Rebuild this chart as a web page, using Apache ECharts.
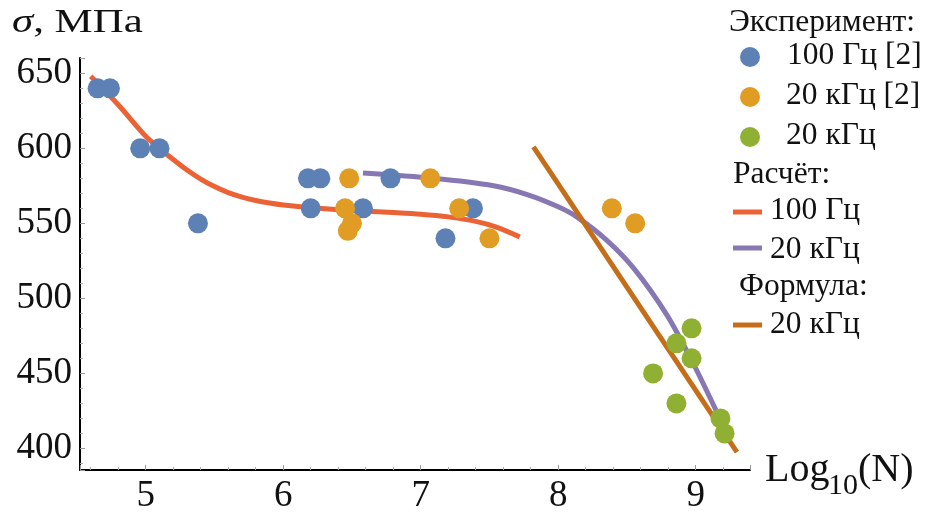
<!DOCTYPE html>
<html>
<head>
<meta charset="utf-8">
<script src="https://cdn.jsdelivr.net/npm/echarts@6/dist/echarts.min.js"></script>
<style>
html,body{margin:0;padding:0;background:#fff;}
#chart{width:932px;height:519px;}
</style>
</head>
<body>
<div id="chart"></div>
<script>
// Experimental points
const exp100X = [4.65, 4.74, 4.96, 5.10, 5.38, 6.18, 6.27, 6.20, 6.58, 6.78, 7.38, 7.18];
const exp100Y = [640, 640, 600, 600, 550, 580, 580, 560, 560, 580, 560, 540];
const exp20kRefX = [6.48, 6.45, 6.50, 6.47, 7.07, 7.28, 7.50, 8.39, 8.56];
const exp20kRefY = [580, 560, 550, 545, 580, 560, 540, 560, 550];
const exp20kX = [8.97, 8.86, 8.97, 8.69, 8.86, 9.18, 9.21];
const exp20kY = [480, 470, 460, 450, 430, 420, 410];
// Calculated curves
const calc100X = [4.60, 4.80, 5.00, 5.10, 5.20, 5.30, 5.40, 5.50, 5.60, 5.70, 5.80, 5.90, 6.00, 6.20, 6.50, 6.80, 7.00, 7.20, 7.40, 7.55, 7.72];
const calc100Y = [648, 629, 608, 600, 592.5, 585.5, 579.5, 574.5, 570.5, 567.5, 565.2, 563.5, 562.2, 560.4, 558.6, 557.2, 556.1, 554.3, 551.3, 547.5, 541];
const calc20kX = [6.58, 7.09, 7.53, 7.78, 8.00, 8.14, 8.35, 8.55, 8.79, 8.98, 9.16];
const calc20kY = [583.5, 580, 575, 569, 561, 554, 539, 520, 489, 457, 423];
// Formula line
const formulaX = [7.82, 9.30];
const formulaY = [601, 397.5];
// Axis ticks
const xTicks = [5, 6, 7, 8, 9];
const yTicks = [400, 450, 500, 550, 600, 650];

const C = {
  blue: '#5E81B5', orange: '#E19C24', green: '#8FB032',
  red: '#EB6235', purple: '#8778B3', brown: '#C56E1A'
};
const FONT = '"Liberation Serif", "Times New Roman", serif';

function pairs(xs, ys) { return xs.map((x, i) => [x, ys[i]]); }

const chart = echarts.init(document.getElementById('chart'), null, {renderer: 'canvas'});

const labelText = (arr) => (v) => {
  for (const t of arr) if (Math.abs(v - t) < 1e-6) return String(t);
  return '';
};

const graphics = [];
function txt(x, y, t, size, extra) {
  graphics.push(Object.assign({type: 'text', x: x, y: y, z: 10,
    style: {text: t, font: size + 'px ' + FONT, fill: '#111', textVerticalAlign: 'middle', verticalAlign: 'middle'}}, extra || {}));
}
function legDot(x, y, c) {
  graphics.push({type: 'circle', shape: {cx: x, cy: y, r: 10}, style: {fill: c}, z: 10});
}
function legLine(x, y, c) {
  graphics.push({type: 'rect', shape: {x: x, y: y - 2.5, width: 29, height: 5}, style: {fill: c}, z: 10});
}

// Title (y axis name), slightly widened like the reference
graphics.push({type: 'text', x: 12, y: 23, scaleX: 1.3, z: 10, style: {
  text: '{i|σ}, МПа', font: '33px ' + FONT, fill: '#111', textVerticalAlign: 'middle', verticalAlign: 'middle',
  rich: {i: {fontStyle: 'italic', fontSize: 33, fontFamily: FONT, fill: '#111'}}}});
// X axis name with subscript
txt(765, 470, 'Log', 40);
txt(828, 486, '10', 30);
txt(858, 470, '(N)', 40);

// Legend
const LS = 31.5;
txt(729, 23, 'Эксперимент:', LS);
legDot(750, 57, C.blue); txt(787, 56, '100 Гц [2]', LS);
legDot(750, 97, C.orange); txt(786, 96, '20 кГц [2]', LS);
legDot(750, 137, C.green); txt(786, 136, '20 кГц', LS);
txt(733, 175, 'Расчёт:', LS);
legLine(733, 212, C.red); txt(770, 211, '100 Гц', LS);
legLine(733, 248, C.purple); txt(770, 250, '20 кГц', LS);
txt(739, 287, 'Формула:', LS);
legLine(733, 325, C.brown); txt(770, 325, '20 кГц', LS);

const option = {
  animation: false,
  backgroundColor: '#fff',
  grid: {left: 80, right: 182, top: 58, bottom: 49, containLabel: false, outerBoundsMode: 'none'},
  xAxis: {
    type: 'value', min: 4.522, max: 9.395,
    axisLine: {show: true, onZero: false, lineStyle: {color: '#000', width: 2}},
    axisTick: {show: true, inside: true, length: 5, lineStyle: {color: '#999', width: 1}},
    minorTick: {show: true, splitNumber: 5, length: 3, lineStyle: {color: '#aaa', width: 1}},
    splitLine: {show: false},
    axisLabel: {show: true, margin: 8, color: '#111', fontFamily: FONT, fontSize: 37,
      showMinLabel: false, showMaxLabel: false, formatter: labelText(xTicks)}
  },
  yAxis: {
    type: 'value', min: 385.6, max: 660.2,
    axisLine: {show: true, onZero: false, lineStyle: {color: '#000', width: 2}},
    axisTick: {show: true, inside: true, length: 5, lineStyle: {color: '#999', width: 1}},
    minorTick: {show: true, splitNumber: 5, length: 3, lineStyle: {color: '#aaa', width: 1}},
    splitLine: {show: false},
    axisLabel: {show: true, margin: 8, color: '#111', fontFamily: FONT, fontSize: 37,
      showMinLabel: false, showMaxLabel: false, formatter: labelText(yTicks)}
  },
  series: [
    {name: 'Расчёт 100 Гц', type: 'line', data: pairs(calc100X, calc100Y), smooth: 0.3, showSymbol: false,
      lineStyle: {color: C.red, width: 5}, z: 2},
    {name: 'Расчёт 20 кГц', type: 'line', data: pairs(calc20kX, calc20kY), smooth: 0.3, showSymbol: false,
      lineStyle: {color: C.purple, width: 5}, z: 2},
    {name: 'Формула 20 кГц', type: 'line', data: pairs(formulaX, formulaY), showSymbol: false,
      lineStyle: {color: C.brown, width: 5}, z: 2},
    {name: '100 Гц [2]', type: 'scatter', data: pairs(exp100X, exp100Y), symbolSize: 20,
      itemStyle: {color: C.blue, opacity: 1}, z: 3},
    {name: '20 кГц [2]', type: 'scatter', data: pairs(exp20kRefX, exp20kRefY), symbolSize: 20,
      itemStyle: {color: C.orange, opacity: 1}, z: 3},
    {name: '20 кГц', type: 'scatter', data: pairs(exp20kX, exp20kY), symbolSize: 20,
      itemStyle: {color: C.green, opacity: 1}, z: 3}
  ],
  graphic: graphics
};

chart.setOption(option);
</script>
</body>
</html>
